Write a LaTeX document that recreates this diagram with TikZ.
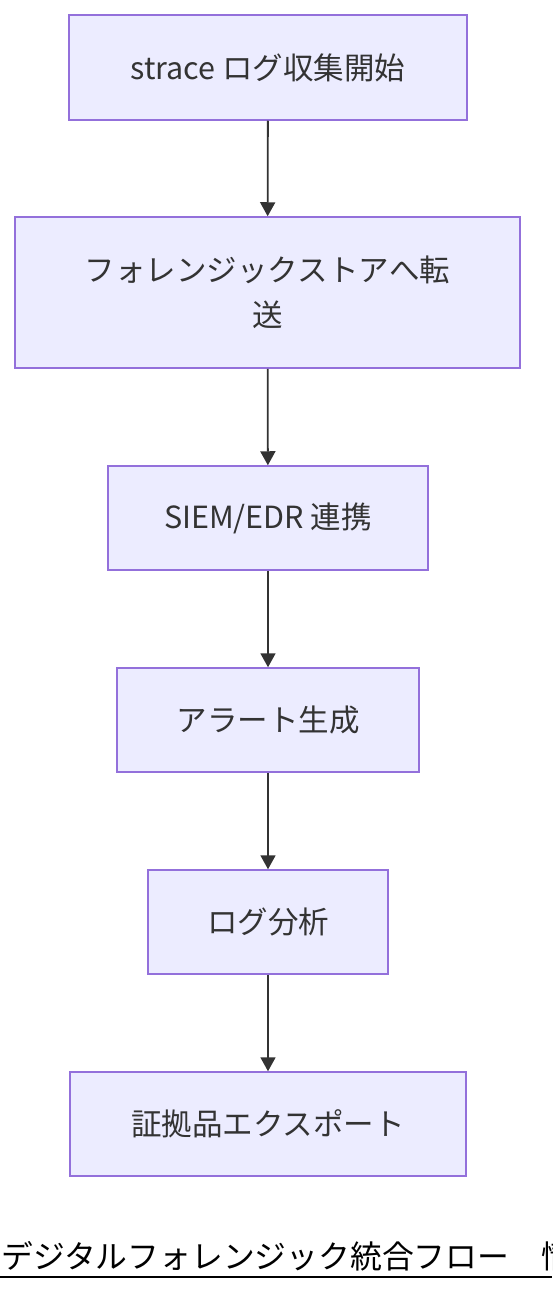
\documentclass[tikz,border=0pt]{standalone}
\usepackage{fontspec}
\setmainfont{Noto Sans CJK JP}
\newfontfamily\titlefont{Noto Sans CJK JP}
\usetikzlibrary{arrows.meta}
\definecolor{boxfill}{HTML}{ECECFF}
\definecolor{boxline}{HTML}{9370DB}
\definecolor{txt}{HTML}{333333}
\begin{document}
\begin{tikzpicture}[x=1pt,y=-1pt,
  box/.style={draw=boxline,fill=boxfill,line width=1.5pt,rectangle,inner sep=0pt,
    text=txt,font=\fontsize{30.5}{45}\selectfont,align=center},
  conn/.style={draw=txt,line width=1.8pt,-{Triangle[length=14pt,width=15pt]}}]
\useasboundingbox (0,0) rectangle (552,1292);
\clip (0,0) rectangle (552,1292);
\node[box,minimum width=398pt,minimum height=105pt] (a) at (268,67.5) {strace ログ収集開始};
\node[box,minimum width=505pt,minimum height=151pt] (b) at (267.5,292.5) {フォレンジックストアへ転\\送};
\node[box,minimum width=320pt,minimum height=104pt] (c) at (268,518) {SIEM/EDR 連携};
\node[box,minimum width=302pt,minimum height=104pt] (d) at (268,720) {アラート生成};
\node[box,minimum width=240pt,minimum height=104pt] (e) at (268,922) {ログ分析};
\node[box,minimum width=396pt,minimum height=104pt] (f) at (268,1124) {証拠品エクスポート};
\draw[conn] (a) -- (b);
\draw[conn] (b) -- (c);
\draw[conn] (c) -- (d);
\draw[conn] (d) -- (e);
\draw[conn] (e) -- (f);
\node[anchor=base west,inner sep=0pt,font=\titlefont\fontsize{31.8}{36}\selectfont,text=black] (t) at (1,1268) {デジタルフォレンジック統合フロー　情報};
\coordinate (u1) at (0,1277);
\coordinate (u2) at (552,1277);
\draw[line width=2pt,black] (u1) -- (u2);
\end{tikzpicture}
\end{document}
